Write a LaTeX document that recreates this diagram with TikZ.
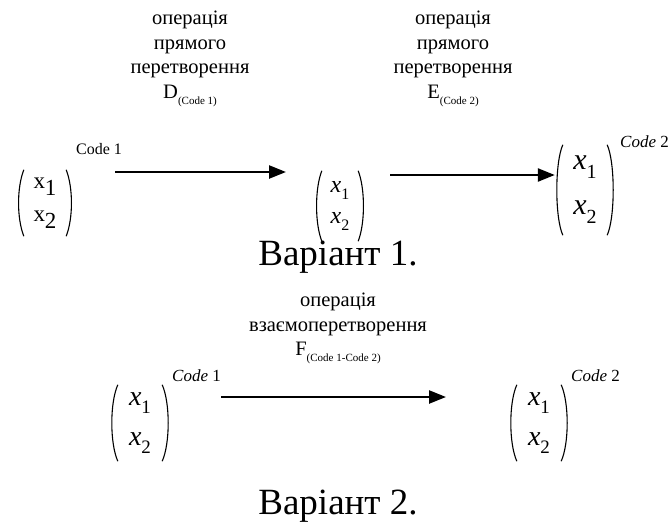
\documentclass[tikz,border=0pt]{standalone}
\usepackage{fontspec}
\setmainfont{Liberation Serif}
\usetikzlibrary{arrows.meta,calc}
\newcommand\xup[1]{x\raisebox{-0.3em}{#1}}
\newcommand\xit[2]{\textit{x}\raisebox{-0.3em}{\fontsize{#2}{#2}\selectfont #1}}
\newcommand\subsm[1]{\raisebox{-0.3em}{\fontsize{11}{11}\selectfont #1}}
\tikzset{
  lbl/.style={align=center, inner sep=0pt, font=\fontsize{20.5}{24.5}\selectfont},
  vec/.style={inner sep=0pt, align=center},
  paren/.style={line width=1.1pt},
  arr/.style={line width=2.4pt, -{Triangle[length=17pt,width=13pt]}},
  sup/.style={inner sep=0pt, anchor=base west},
  title/.style={inner sep=0pt, font=\fontsize{37}{37}\selectfont}
}
\newcommand\drawparens[2]{%
  \draw[paren] ($(#1.north west)+(#2,0)$) .. controls ($(#1.north west)+(0,18)$) and ($(#1.south west)+(0,-18)$) .. ($(#1.south west)+(#2,0)$);
  \draw[paren] ($(#1.north east)+(-#2,0)$) .. controls ($(#1.north east)+(0,18)$) and ($(#1.south east)+(0,-18)$) .. ($(#1.south east)+(-#2,0)$);
}
\begin{document}
\begin{tikzpicture}[x=1pt,y=-1pt]
\useasboundingbox (0,0) rectangle (670,531);
% top labels
\node[lbl, anchor=north] (l1) at (190,11) {операція\\прямого\\перетворення\\D\subsm{(Code 1)}};
\node[lbl, anchor=north] (l2) at (453,11) {операція\\прямого\\перетворення\\E\subsm{(Code 2)}};
% matrices row 1
\node[vec, minimum width=56pt, minimum height=66pt, font=\fontsize{23}{33}\selectfont] (m1) at (45,203) {\xup{1}\\\xup{2}};
\drawparens{m1}{7}
\node[sup, font=\fontsize{16}{16}\selectfont] (c1) at (76,154) {Code 1};
\node[vec, minimum width=50pt, minimum height=70pt, font=\fontsize{24}{31}\selectfont] (m2) at (340,206) {\xit{1}{16}\\\xit{2}{16}};
\drawparens{m2}{7}
\node[vec, minimum width=60pt, minimum height=90pt, font=\fontsize{30}{45}\selectfont] (m3) at (585,190) {\xit{1}{20}\\\xit{2}{20}};
\drawparens{m3}{8}
\node[sup, font=\fontsize{17}{17}\selectfont] (c2) at (620,147) {\textit{Code} 2};
\coordinate (a1s) at (115,172);
\coordinate (a1e) at (286,172);
\draw[arr] (a1s) -- (a1e);
\coordinate (a2s) at (390,175);
\draw[arr] (a2s) -- (m3.west |- a2s);
\node[title] (t1) at (338,257) {Варіант 1.};
% row 2
\node[lbl, anchor=north] (l3) at (338,293) {операція\\взаємоперетворення\\F\subsm{(Code 1-Code 2)}};
\node[vec, minimum width=60pt, minimum height=76pt, font=\fontsize{28}{40}\selectfont] (m4) at (140,423) {\xit{1}{19}\\\xit{2}{19}};
\drawparens{m4}{8}
\node[sup, font=\fontsize{17}{17}\selectfont] (c3) at (172,381) {\textit{Code} 1};
\node[vec, minimum width=60pt, minimum height=76pt, font=\fontsize{28}{40}\selectfont] (m5) at (539,423) {\xit{1}{19}\\\xit{2}{19}};
\drawparens{m5}{8}
\node[sup, font=\fontsize{17}{17}\selectfont] (c4) at (571,381) {\textit{Code} 2};
\coordinate (a3e) at (446,397);
\draw[arr] (c3.base east |- a3e) -- (a3e);
\node[title] (t2) at (338,506) {Варіант 2.};
\end{tikzpicture}
\end{document}
